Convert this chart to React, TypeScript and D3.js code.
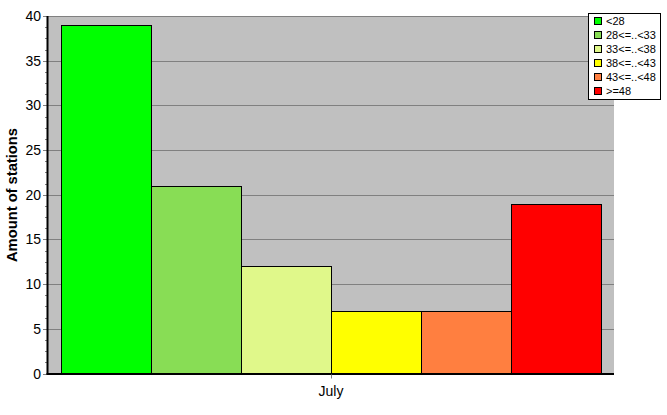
import React from "react";
import * as d3 from "d3";

const categories = ["<28", "28<=..<33", "33<=..<38", "38<=..<43", "43<=..<48", ">=48"];
const values = [39, 21, 12, 7, 7, 19];
const colors = ["#00ff00", "#88dd55", "#e0f88a", "#ffff00", "#ff7f40", "#ff0000"];
const yTicks = [0, 5, 10, 15, 20, 25, 30, 35, 40];
const xLabel = "July";
const yTitle = "Amount of stations";

export default function App() {
  const W = 667, H = 415;
  const left = 48, right = 614, top = 16, bottom = 373.5;
  const y = d3.scaleLinear().domain([0, 40]).range([bottom, top]);
  const x = d3.scaleBand().domain(categories).range([61, 601]).paddingInner(0).paddingOuter(0);
  const minor = d3.range(0, 40.01, 1.25).filter((v) => v % 5 !== 0);
  const font = "'Liberation Sans', Arial, sans-serif";
  return (
    <svg width={W} height={H} style={{ position: "absolute", left: 0, top: 0 }}>
      <rect x={0} y={0} width={W} height={H} fill="#fff" />
      <rect x={left} y={top} width={right - left} height={bottom - top} fill="#c0c0c0" />
      {yTicks.map((t) => (
        <line key={"g" + t} x1={left - 5} x2={right} y1={Math.round(y(t)) + 0.5} y2={Math.round(y(t)) + 0.5} stroke="#808080" />
      ))}
      {minor.map((t) => (
        <line key={"m" + t} x1={left - 3} x2={left - 1} y1={Math.round(y(t)) + 0.5} y2={Math.round(y(t)) + 0.5} stroke="#808080" />
      ))}
      {categories.map((c, i) => (
        <rect key={c} x={x(c)! + 0.5} y={Math.round(y(values[i])) + 0.5} width={x.bandwidth()} height={bottom - Math.round(y(values[i]))} fill={colors[i]} stroke="#000" />
      ))}
      <line x1={left - 0.5} x2={left - 0.5} y1={top} y2={bottom + 1} stroke="#000" strokeWidth={2} />
      <line x1={left - 1.5} x2={right} y1={bottom + 0.5} y2={bottom + 0.5} stroke="#000" strokeWidth={2} />
      <line x1={331.5} x2={331.5} y1={bottom + 1} y2={bottom + 5} stroke="#808080" />
      {yTicks.map((t) => (
        <text key={"t" + t} x={left - 7} y={y(t) + 5} textAnchor="end" fontFamily={font} fontSize={14} fill="#000">{t}</text>
      ))}
      <text x={331} y={396} textAnchor="middle" fontFamily={font} fontSize={14} fill="#000">{xLabel}</text>
      <text transform={`translate(17,195) rotate(-90)`} textAnchor="middle" fontFamily={font} fontSize={14} fontWeight="bold" fill="#000" textLength={134} lengthAdjust="spacingAndGlyphs">{yTitle}</text>
      <rect x={588.5} y={13.5} width={72} height={86} fill="#fff" stroke="#000" />
      {categories.map((c, i) => (
        <g key={"l" + c}>
          <rect x={594.5} y={17.5 + i * 14} width={7} height={7} fill={colors[i]} stroke="#000" />
          <text x={606} y={25 + i * 14} fontFamily={font} fontSize={11} fill="#000">{c}</text>
        </g>
      ))}
    </svg>
  );
}
